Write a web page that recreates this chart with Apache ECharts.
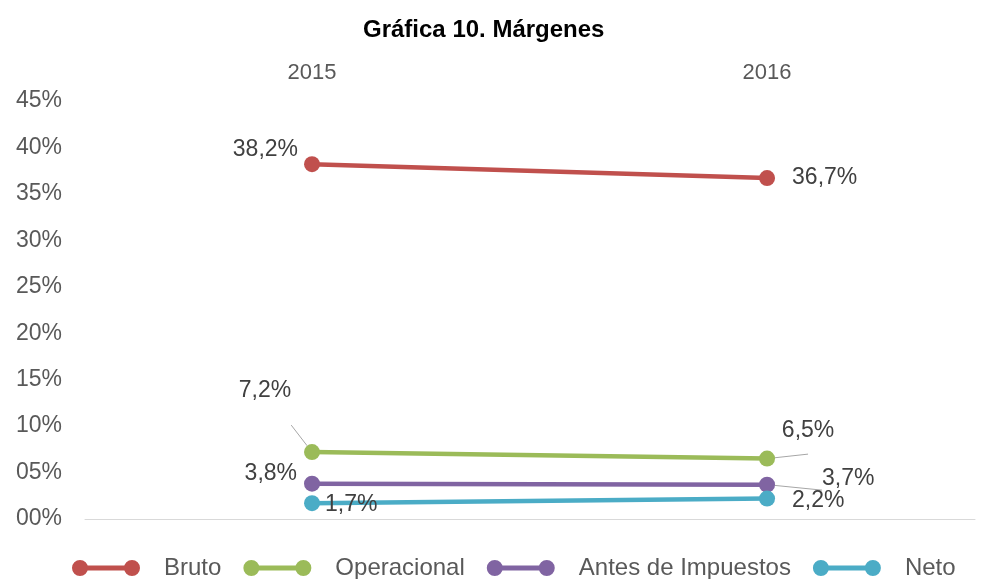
<!DOCTYPE html>
<html>
<head>
<meta charset="utf-8">
<script src="https://cdn.jsdelivr.net/npm/echarts@6/dist/echarts.min.js"></script>
<style>
  html, body { margin: 0; padding: 0; background: #fff; }
  #chart { width: 985px; height: 579px; }
</style>
</head>
<body>
<div id="chart"></div>
<script>
// datos
var years = ["2015", "2016"]
var seriesNames = ["Bruto", "Operacional", "Antes de Impuestos", "Neto"]
var bruto = [38.2, 36.7]
var operacional = [7.2, 6.5]
var antesImpuestos = [3.8, 3.7]
var neto = [1.7, 2.2]
var yTicks = [0, 5, 10, 15, 20, 25, 30, 35, 40, 45]

var colors = ["#C0504D", "#9BBB59", "#8064A2", "#4BACC6"]
var font = 'Arial, "Liberation Sans", sans-serif'

// donde va cada etiqueta (por serie, por punto)
var labelStyles = [
    [{ position: "left", distance: 6, offset: [0, -15] }, { position: "right", distance: 17, offset: [0, 0] }],
    [{ position: "top", distance: 5, offset: [-47, -37], line: true }, { position: "top", distance: 5, offset: [41, -3], line: true }],
    [{ position: "left", distance: 7, offset: [0, -10] }, { position: "right", distance: 47, offset: [0, -6], line: true }],
    [{ position: "right", distance: 5, offset: [0, 1] }, { position: "right", distance: 17, offset: [0, 2] }]
]

function pct(v) {
    return v.toFixed(1).replace(".", ",") + "%"
}

function buildSeries(name, values, idx) {
    return {
        name: name,
        type: "line",
        symbol: "circle",
        symbolSize: 16,
        lineStyle: { width: 4.5, color: colors[idx] },
        itemStyle: { color: colors[idx] },
        data: values.map(function (v, i) {
            var st = labelStyles[idx][i]
            return {
                value: [i, v],
                label: {
                    show: true,
                    position: st.position,
                    distance: st.distance,
                    offset: st.offset,
                    formatter: function () { return pct(v) },
                    color: "#404040",
                    fontSize: 23,
                    fontFamily: font
                },
                labelLine: {
                    show: !!st.line,
                    lineStyle: { color: "#A6A6A6", width: 1 }
                }
            }
        })
    }
}

// dos circulos unidos por una barra (mismo sentido de giro para que no queden huecos)
var legendIcon = "path://M0,8a8,8 0 1,0 16,0a8,8 0 1,0 -16,0Z M52,8a8,8 0 1,0 16,0a8,8 0 1,0 -16,0Z M8,5.5L8,10.5L60,10.5L60,5.5Z"

var chart = echarts.init(document.getElementById("chart"))
var xMin = -0.4989
var xMax = 1.457
var option = {
    animation: false,
    color: colors,
    title: {
        text: "Gráfica 10. Márgenes",
        left: 358,
        top: 13,
        textStyle: { fontSize: 24, fontWeight: "bold", color: "#000", fontFamily: font }
    },
    legend: {
        data: seriesNames.map(function (n) { return { name: n, icon: legendIcon } }),
        left: 72,
        top: 556,
        padding: 0,
        itemWidth: 68,
        itemHeight: 16,
        itemGap: 22,
        textStyle: { fontSize: 24, color: "#595959", fontFamily: font, padding: [0, 0, 0, 19] }
    },
    grid: { left: 85, right: 10, top: 101, bottom: 60, containLabel: false },
    xAxis: [
        {
            type: "value",
            position: "bottom",
            min: xMin,
            max: xMax,
            axisLine: { show: true, lineStyle: { color: "#D9D9D9", width: 1 } },
            axisTick: { show: false },
            axisLabel: { show: false },
            splitLine: { show: false }
        },
        {
            type: "value",
            position: "top",
            min: xMin,
            max: xMax,
            axisLine: { show: false },
            axisTick: { show: false },
            splitLine: { show: false },
            axisLabel: {
                customValues: [0, 1],
                formatter: function (v) { return years[Math.round(v)] },
                color: "#595959",
                fontSize: 22,
                fontFamily: font,
                margin: 17
            }
        }
    ],
    yAxis: {
        type: "value",
        min: 0,
        max: 45,
        interval: 5,
        axisLine: { show: false },
        axisTick: { show: false },
        splitLine: { show: false },
        axisLabel: {
            customValues: yTicks,
            formatter: function (v) { return (v < 10 ? "0" : "") + v + "%" },
            color: "#595959",
            fontSize: 23,
            fontFamily: font,
            margin: 23,
            padding: [4, 0, 0, 0]
        }
    },
    series: [
        buildSeries(seriesNames[0], bruto, 0),
        buildSeries(seriesNames[1], operacional, 1),
        buildSeries(seriesNames[2], antesImpuestos, 2),
        buildSeries(seriesNames[3], neto, 3)
    ]
}
chart.setOption(option)
</script>
</body>
</html>
